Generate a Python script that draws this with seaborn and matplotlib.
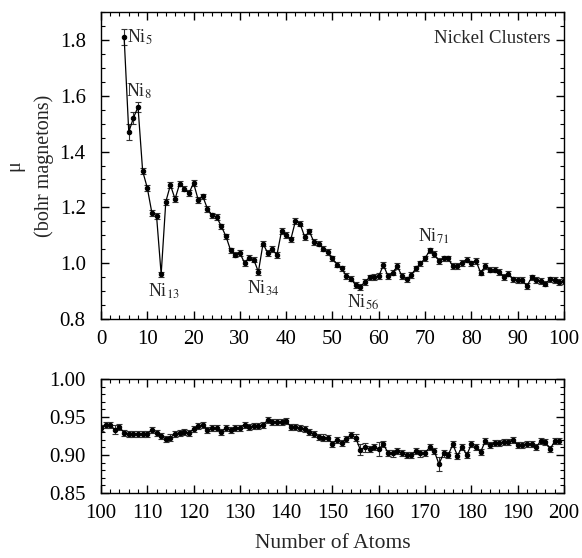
import numpy as np
import pandas as pd
import matplotlib
matplotlib.use("Agg")
import matplotlib.pyplot as plt
import seaborn as sns
from matplotlib.ticker import MultipleLocator

# --- data ---
top_atoms = list(range(5, 101))
top_moment = [
    1.81, 1.47, 1.52, 1.56, 1.33, 1.27, 1.18, 1.17, 0.96, 1.22,
    1.28, 1.23, 1.285, 1.267, 1.251, 1.287, 1.227, 1.239, 1.195, 1.171,
    1.165, 1.132, 1.096, 1.046, 1.031, 1.037, 1.001, 1.02, 1.013, 0.969,
    1.07, 1.037, 1.05, 1.029, 1.115, 1.102, 1.085, 1.151, 1.142, 1.094,
    1.114, 1.076, 1.07, 1.052, 1.04, 1.017, 0.995, 0.981, 0.954, 0.945,
    0.921, 0.915, 0.933, 0.949, 0.951, 0.954, 0.993, 0.954, 0.966, 0.989,
    0.954, 0.942, 0.957, 0.981, 0.999, 1.017, 1.046, 1.032, 1.008, 1.017,
    1.017, 0.989, 0.989, 1.001, 1.013, 0.999, 1.008, 0.966, 0.989, 0.977,
    0.977, 0.969, 0.951, 0.963, 0.942, 0.939, 0.939, 0.918, 0.949, 0.939,
    0.937, 0.927, 0.942, 0.939, 0.933, 0.936,
]
top_err = [0.03, 0.03, 0.02, 0.018] + [0.01] * 92

bottom_atoms = list(range(100, 200))
bottom_moment = [
    0.935, 0.940, 0.940, 0.933, 0.937, 0.929, 0.928, 0.928, 0.928, 0.928,
    0.928, 0.933, 0.929, 0.925, 0.921, 0.923, 0.928, 0.929, 0.930, 0.929,
    0.934, 0.938, 0.939, 0.933, 0.935, 0.935, 0.930, 0.936, 0.933, 0.935,
    0.936, 0.940, 0.937, 0.938, 0.938, 0.939, 0.946, 0.944, 0.943, 0.943,
    0.945, 0.937, 0.937, 0.935, 0.934, 0.930, 0.928, 0.924, 0.923, 0.922,
    0.915, 0.920, 0.916, 0.921, 0.926, 0.923, 0.907, 0.910, 0.908, 0.910,
    0.908, 0.914, 0.903, 0.902, 0.905, 0.903, 0.900, 0.900, 0.905, 0.902,
    0.903, 0.910, 0.905, 0.888, 0.902, 0.900, 0.914, 0.899, 0.911, 0.900,
    0.914, 0.910, 0.904, 0.918, 0.913, 0.916, 0.916, 0.917, 0.917, 0.920,
    0.913, 0.913, 0.915, 0.914, 0.910, 0.919, 0.917, 0.908, 0.918, 0.918,
]
bottom_err = [0.004] * 100
for n, e in {103: 0.006, 156: 0.007, 157: 0.006, 160: 0.009, 173: 0.009}.items():
    bottom_err[n - 100] = e

labels = [(5, r"Ni$_{5}$"), (8, r"Ni$_{8}$"), (13, r"Ni$_{13}$"),
          (34, r"Ni$_{34}$"), (56, r"Ni$_{56}$"), (71, r"Ni$_{71}$")]

# --- style ---
sns.set_style("ticks")
plt.rcParams["font.family"] = ["Liberation Serif", "DejaVu Serif"]
plt.rcParams["mathtext.fontset"] = "stix"
plt.rcParams["axes.linewidth"] = 1.0

fig = plt.figure(figsize=(5.82, 5.58), dpi=100)
ax1 = fig.add_axes([0.1735, 0.4283, 0.7955, 0.5502])
ax2 = fig.add_axes([0.1735, 0.1165, 0.7955, 0.2043])


def draw_panel(ax, atoms, moment, err):
    df = pd.DataFrame({"N": atoms, "mu": moment})
    ax.errorbar(atoms, moment, yerr=err, fmt="none", ecolor="#333333",
                elinewidth=0.8, capsize=2, capthick=0.8, zorder=2)
    sns.lineplot(data=df, x="N", y="mu", ax=ax, color="black", linewidth=0.9,
                 marker="o", markersize=3.2, markeredgecolor="black", zorder=3)
    ax.set_xlabel("")
    ax.set_ylabel("")
    ax.tick_params(which="both", direction="in", top=True, right=True,
                   labelsize=15, colors="black")
    ax.tick_params(which="major", length=6, width=1)
    ax.tick_params(axis="x", which="major", pad=8)
    ax.tick_params(axis="y", which="major", pad=11)
    ax.tick_params(which="minor", length=3, width=0.8)
    ax.xaxis.set_major_locator(MultipleLocator(10))
    ax.xaxis.set_minor_locator(MultipleLocator(2))
    for s in ax.spines.values():
        s.set_color("black")


draw_panel(ax1, top_atoms, top_moment, top_err)
ax1.set_xlim(0, 100)
ax1.set_ylim(0.8, 1.9)
ax1.yaxis.set_major_locator(MultipleLocator(0.2))
ax1.yaxis.set_minor_locator(MultipleLocator(0.05))
ax1.set_yticks([0.8, 1.0, 1.2, 1.4, 1.6, 1.8])
ax1.set_ylabel("μ\n(bohr magnetons)", fontsize=14.5, linespacing=1.7, labelpad=4)
ax1.text(0.97, 0.915, "Nickel Clusters", transform=ax1.transAxes,
         ha="right", va="center", fontsize=13.5)

offsets = {5: (0.6, 0.0, "left", "center"),
           8: (-2.5, 0.055, "left", "center"),
           13: (0.6, -0.06, "center", "center"),
           34: (1.0, -0.06, "center", "center"),
           56: (0.6, -0.055, "center", "center"),
           71: (0.8, 0.05, "center", "center")}
for n, txt in labels:
    dx, dy, ha, va = offsets[n]
    ax1.text(n + dx, top_moment[n - 5] + dy, txt, fontsize=13, ha=ha, va=va)

draw_panel(ax2, bottom_atoms, bottom_moment, bottom_err)
ax2.set_xlim(100, 200)
ax2.set_ylim(0.85, 1.0)
ax2.yaxis.set_major_locator(MultipleLocator(0.05))
ax2.yaxis.set_minor_locator(MultipleLocator(0.01))
ax2.yaxis.set_major_formatter(matplotlib.ticker.FormatStrFormatter("%.2f"))
ax2.set_xlabel("Number of Atoms", fontsize=15.5, labelpad=8)

fig.savefig("out.png", dpi=100)
